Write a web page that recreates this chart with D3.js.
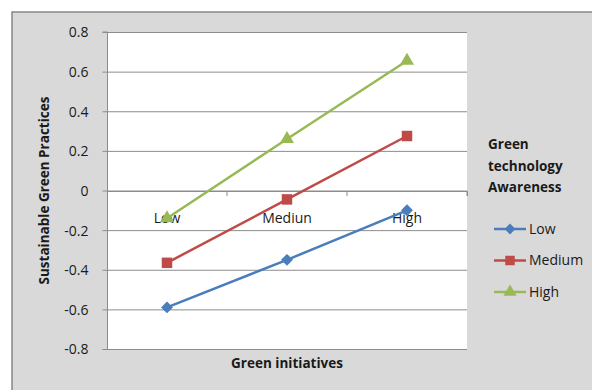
<!DOCTYPE html>
<html><head><meta charset="utf-8">
<script src="https://cdn.jsdelivr.net/npm/d3@7"></script>
<style>body{margin:0;background:#fff}svg{display:block}text{font-family:"Open Sans",sans-serif;fill:#1a1a1a}</style>
</head><body>
<svg id="c" width="592" height="390"></svg>
<script>
const categories = ["Low", "Mediun", "High"];
const seriesNames = ["Low", "Medium", "High"];
const lowValues = [-0.59, -0.35, -0.10];
const mediumValues = [-0.365, -0.045, 0.275];
const highValues = [-0.14, 0.26, 0.655];
const yTicks = [-0.8, -0.6, -0.4, -0.2, 0, 0.2, 0.4, 0.6, 0.8];
const colors = ["#4a7ebb", "#be4b48", "#98b954"];
const symbols = [d3.symbolDiamond2, d3.symbolSquare, d3.symbolTriangle];

const series = seriesNames.map((n, i) => ({name: n, values: [lowValues, mediumValues, highValues][i], color: colors[i], symbol: symbols[i]}));

const svg = d3.select("#c");
svg.append("rect").attr("x", 12).attr("y", 12).attr("width", 592).attr("height", 390).attr("fill", "#d9d9d9").attr("stroke", "#878787").attr("stroke-width", 1.5);

const plot = {l: 107, r: 467, t: 32, b: 349};
svg.append("rect").attr("x", plot.l).attr("y", plot.t).attr("width", plot.r - plot.l).attr("height", plot.b - plot.t).attr("fill", "#fff");

const x = d3.scaleBand().domain(categories).range([plot.l, plot.r]);
const y = d3.scaleLinear().domain([-0.8, 0.8]).range([plot.b, plot.t]);

svg.append("g").selectAll("line").data(yTicks).join("line")
  .attr("x1", plot.l).attr("x2", plot.r)
  .attr("y1", d => y(d) + 0.5).attr("y2", d => y(d) + 0.5)
  .attr("stroke", "#8c8c8c").attr("stroke-width", 1);

const fmt = d => d === 0 ? "0" : d3.format(".1f")(d).replace("\u2212", "-");
const yAxis = svg.append("g").attr("transform", `translate(${plot.l + 0.5},0)`)
  .call(d3.axisLeft(y).tickValues(yTicks).tickFormat(fmt).tickSize(5).tickPadding(14));
yAxis.selectAll("path, line").attr("stroke", "#8c8c8c");
yAxis.select(".domain").attr("d", `M-5,${plot.t}H0V${plot.b + 0.5}H-5`);
yAxis.selectAll("text").attr("font-size", 14).attr("font-family", "'Open Sans',sans-serif").attr("fill", "#1a1a1a").attr("dy", "0.35em");

const xAxis = svg.append("g").attr("transform", `translate(0,${y(0) + 0.5})`)
  .call(d3.axisBottom(x).tickSize(5).tickPadding(22).tickSizeOuter(5));
xAxis.selectAll("path, line").attr("stroke", "#8c8c8c");
xAxis.selectAll(".tick line").attr("transform", `translate(${x.bandwidth() / 2},0)`);
xAxis.selectAll("text").attr("font-size", 14).attr("font-family", "'Open Sans',sans-serif").attr("fill", "#1a1a1a").attr("dy", "0.35em");

const line = d3.line().x((d, i) => x(categories[i]) + x.bandwidth() / 2).y(d => y(d));
const size = s => s === d3.symbolSquare ? 110 : s === d3.symbolTriangle ? 85 : 90;
series.forEach(s => {
  svg.append("path").datum(s.values).attr("d", line).attr("fill", "none").attr("stroke", s.color).attr("stroke-width", 2.5);
  svg.append("g").selectAll("path").data(s.values).join("path")
    .attr("transform", (d, i) => `translate(${x(categories[i]) + x.bandwidth() / 2},${y(d)})`)
    .attr("d", d3.symbol(s.symbol, size(s.symbol)))
    .attr("fill", s.color);
});

svg.append("text").attr("transform", `translate(49,${(plot.t + plot.b) / 2}) rotate(-90)`)
  .attr("text-anchor", "middle").attr("font-size", 13.5).attr("font-weight", "bold").text("Sustainable Green Practices");
svg.append("text").attr("x", 287).attr("y", 368).attr("text-anchor", "middle")
  .attr("font-size", 13.5).attr("font-weight", "bold").text("Green initiatives");

const lt = svg.append("text").attr("x", 488).attr("font-size", 13.5).attr("font-weight", "bold");
["Green", "technology", "Awareness"].forEach((t, i) => lt.append("tspan").attr("x", 488).attr("y", 149 + i * 21.5).text(t));
const lg = svg.append("g").selectAll("g").data(series).join("g")
  .attr("transform", (d, i) => `translate(494,${229 + i * 31.5})`);
lg.append("line").attr("x1", 0).attr("x2", 32).attr("stroke", d => d.color).attr("stroke-width", 2.5);
lg.append("path").attr("transform", "translate(16,0)")
  .attr("d", d => d3.symbol(d.symbol, d.symbol === d3.symbolSquare ? 90 : 75)()).attr("fill", d => d.color);
lg.append("text").attr("x", 35).attr("dy", "0.35em").attr("font-size", 14).text(d => d.name);
</script>
</body></html>
